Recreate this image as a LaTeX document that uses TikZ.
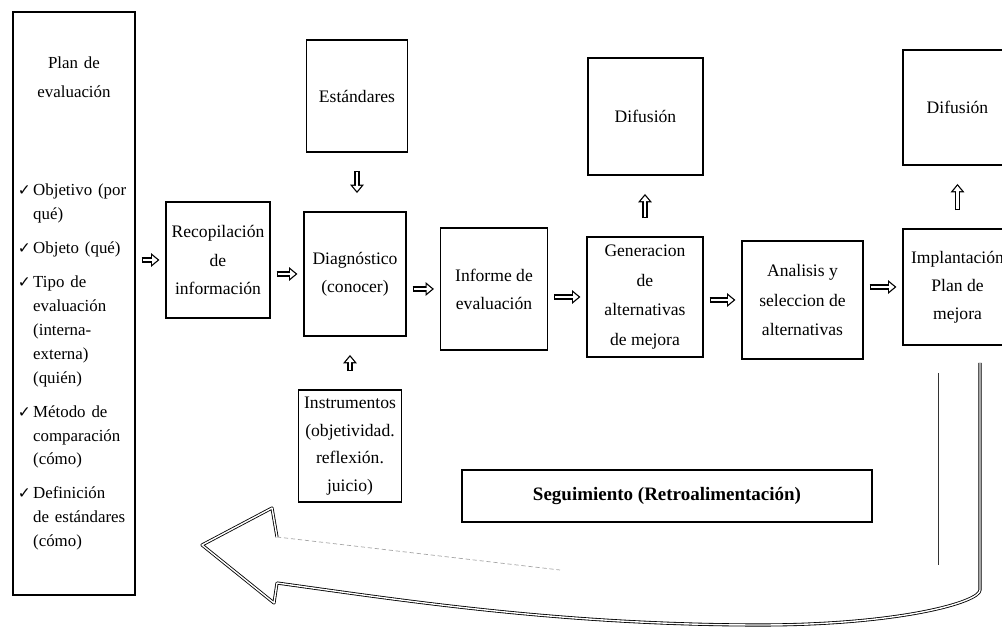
\documentclass[tikz,border=0pt]{standalone}
\usepackage{fontspec}
\setmainfont{Liberation Serif}
\newfontfamily\dejavu{DejaVu Sans}
\usetikzlibrary{arrows.meta}
\newcommand{\chk}{\makebox[3.8mm][l]{\dejavu\fontsize{11}{11}\selectfont ✓}}
\newcommand{\punto}{\par\hangindent=3.8mm\hangafter=1\noindent\chk}

\begin{document}
\begin{tikzpicture}[x=0.025cm,y=-0.025cm,
    caja/.style={draw,line width=1.3pt,inner sep=1pt,font=\fontsize{12.5}{20}\selectfont},
    texto/.style={caja,align=center},
    flecha/.style={line width=3.6pt,-{Triangle[length=6pt,width=9.5pt]},shorten <=4pt,shorten >=4pt,
        postaction={draw=white,line width=1.9pt,-{Triangle[length=3.8pt,width=6pt]},shorten <=4.85pt,shorten >=5.4pt}},
    flechav/.style={line width=3.6pt,-{Triangle[length=6pt,width=9.5pt]},shorten <=12.8pt,shorten >=12.8pt,
        postaction={draw=white,line width=1.9pt,-{Triangle[length=3.8pt,width=6pt]},shorten <=13.65pt,shorten >=14.2pt}},
    retro/.style={draw=black,double,double distance=1pt,line width=0.6pt,line join=round}]
    \useasboundingbox (0,0) rectangle (1002,629);
    \clip (0,0) rectangle (1002,629);
    \node[caja,minimum width=30.5mm,minimum height=145.75mm,text width=28mm] (plan) at (74,303.5)
        {{\centering\fontsize{12}{21}\selectfont Plan de\\evaluación\par}
        \vspace{16mm}
        {\fontsize{12}{17}\selectfont\parskip=2.5mm\raggedright
        \punto Objetivo (por\newline qué)
        \punto Objeto (qué)
        \punto Tipo de\newline evaluación\newline (interna-\newline externa)\newline (quién)
        \punto Método de\newline comparación\newline (cómo)
        \punto Definición\newline de estándares\newline (cómo)\par}};
    \node[texto,minimum width=26mm,minimum height=29mm] (recop) at (218,260) {Recopilación\\de\\información};
    \node[texto,minimum width=25.5mm,minimum height=31mm] (diag) at (355,274) {Diagnóstico\\(conocer)};
    \node[texto,minimum width=25.25mm,minimum height=28mm] (estand) at (357,96) {Estándares};
    \node[texto,minimum width=25.75mm,minimum height=28mm,font=\fontsize{12.5}{19.5}\selectfont] (instr) at (350,446) {Instrumentos\\(objetividad.\\reflexión.\\juicio)};
    \node[texto,minimum width=26.75mm,minimum height=30.5mm] (informe) at (494,289) {Informe de\\evaluación};
    \node[texto,minimum width=29mm,minimum height=30mm,font=\fontsize{12.5}{21}\selectfont] (gener) at (645,297) {Generacion\\de\\alternativas\\de mejora};
    \node[texto,minimum width=28.75mm,minimum height=29.25mm] (difusionA) at (645.5,116.5) {Difusión};
    \node[texto,minimum width=30.25mm,minimum height=29.5mm,font=\fontsize{12.5}{21}\selectfont] (analisis) at (802.5,300) {Analisis y\\seleccion de\\alternativas};
    \node[texto,minimum width=27.25mm,minimum height=29mm] (implant) at (957.5,287) {Implantación\\Plan de\\mejora};
    \node[texto,minimum width=27.25mm,minimum height=28.75mm] (difusionB) at (957.5,107.5) {Difusión};
    \node[texto,minimum width=102.5mm,minimum height=13mm,font=\fontsize{13.5}{16}\selectfont\bfseries] (segui) at (667,496) {Seguimiento (Retroalimentación)};
    \draw[flecha] (plan.east |- recop) -- (recop);
    \draw[flecha] (recop.east |- diag) -- (diag);
    \draw[flecha] (diag.east |- informe) -- (informe);
    \draw[flecha] (informe.east |- gener) -- (gener);
    \draw[flecha] (gener.east |- analisis) -- (analisis);
    \draw[flecha] (analisis.east |- implant) -- (implant);
    \draw[flechav] (estand.south) -- (estand.south |- diag.north);
    \draw[flechav] (instr.north) -- (instr.north |- diag.south);
    \draw[flechav] (gener.north) -- (gener.north |- difusionA.south);
    \draw[flechav] (implant.north) -- (implant.north |- difusionB.south);
    \draw[retro] (980,363) -- (980,590) .. controls (980,602) and (900,625) .. (760,625)
        .. controls (560,625) and (400,600) .. (277,583) -- (274,603) -- (202,545) -- (272,508) -- (277,537);
    \draw[black!80,line width=0.7pt] (938,373) -- (938,565);
    \draw[black!35,densely dashed,line width=0.5pt] (277,537) -- (560,570);
\end{tikzpicture}
\end{document}
